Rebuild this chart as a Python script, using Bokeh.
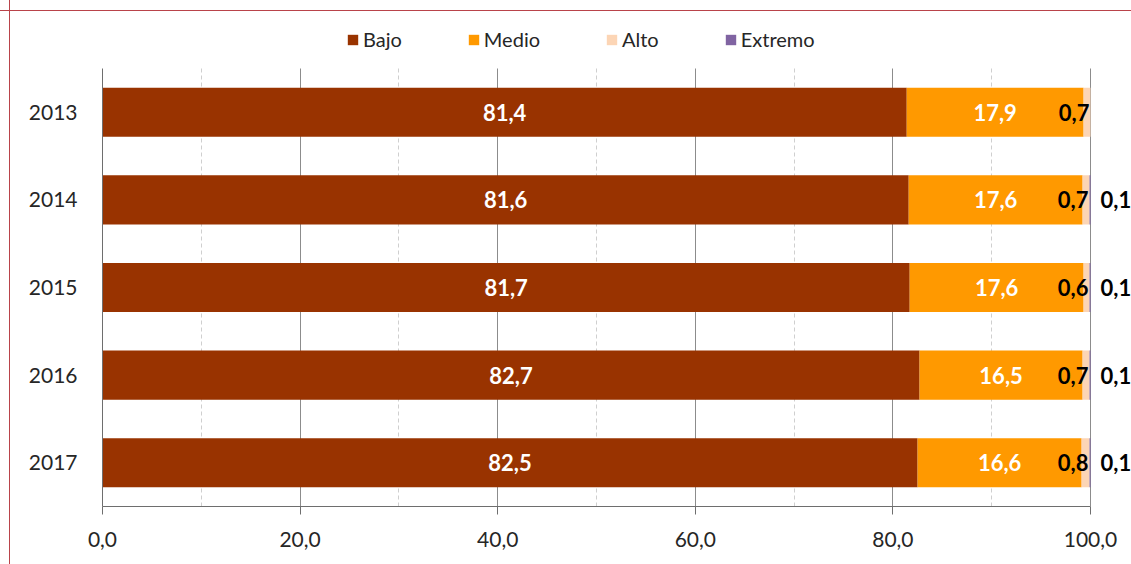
from bokeh.plotting import figure
from bokeh.models import (ColumnDataSource, Range1d, FixedTicker, BoxAnnotation,
                          LabelSet, Legend, LegendItem)
from bokeh.core.properties import value
from bokeh.embed import file_html
from bokeh.resources import INLINE

years = ["2013", "2014", "2015", "2016", "2017"]
bajo = [81.4, 81.6, 81.7, 82.7, 82.5]
medio = [17.9, 17.6, 17.6, 16.5, 16.6]
alto = [0.7, 0.7, 0.6, 0.7, 0.8]
extremo = [0.0, 0.1, 0.1, 0.1, 0.1]
series_names = ["Bajo", "Medio", "Alto", "Extremo"]
colors = ["#993300", "#FF9900", "#FCD5B5", "#8064A2"]
x_ticks = [0, 20, 40, 60, 80, 100]
x_tick_labels = ["0,0", "20,0", "40,0", "60,0", "80,0", "100,0"]
x_minor = [10, 30, 50, 70, 90]


def fmt(v):
    return f"{v:.1f}".replace(".", ",")


FONT = "Lato"
W, H = 1131, 564
LEFT, BOTTOM = 102, 58
PX_PER_UNIT_X = 9.88     # frame pixels per percentage point
PX_PER_CAT = 87.6        # frame pixels per category band

n = len(years)
ypos = [n - i - 0.5 for i in range(n)]   # first year at top

src = ColumnDataSource(dict(
    year=years, ypos=ypos, bajo=bajo, medio=medio, alto=alto, extremo=extremo,
    bajo_mid=[b / 2 for b in bajo],
    medio_mid=[b + m / 2 for b, m in zip(bajo, medio)],
    alto_end=[b + m + a for b, m, a in zip(bajo, medio, alto)],
    ext_end=[b + m + a + e for b, m, a, e in zip(bajo, medio, alto, extremo)],
    bajo_lbl=[fmt(v) for v in bajo],
    medio_lbl=[fmt(v) for v in medio],
    alto_lbl=[fmt(v) for v in alto],
    ext_lbl=[fmt(v) if v > 0 else "" for v in extremo],
))

x_end = (W - LEFT) / PX_PER_UNIT_X
y_end = (H - BOTTOM) / PX_PER_CAT

p = figure(width=W, height=H,
           x_range=Range1d(0, x_end), y_range=Range1d(0, y_end),
           output_backend="svg", toolbar_location=None,
           min_border_left=LEFT, min_border_right=0,
           min_border_top=0, min_border_bottom=BOTTOM)
p.outline_line_color = None
p.background_fill_color = None
p.border_fill_color = None
p.styles = {
    "background-color": "white",
    "background-image": "linear-gradient(#B9434A,#B9434A), linear-gradient(#B9434A,#B9434A)",
    "background-size": "100% 1px, 1px 100%",
    "background-position": "0 10px, 9px 0",
    "background-repeat": "no-repeat",
}

rs = p.hbar_stack(["bajo", "medio", "alto", "extremo"], y="ypos", height=0.56,
                  color=colors, line_color=None, source=src)

# grid
tk = FixedTicker(ticks=x_ticks, minor_ticks=x_minor)
p.xaxis.ticker = tk
p.xgrid.ticker = tk
p.xgrid.grid_line_color = "#8C8C8C"
p.xgrid.minor_grid_line_color = "#CFCFCF"
p.xgrid.minor_grid_line_dash = "4 3"
p.ygrid.grid_line_color = None
try:
    p.xgrid[0].cross_bounds = (0, n)
except Exception:
    p.add_layout(BoxAnnotation(bottom=n, fill_color="white", fill_alpha=1,
                               line_color=None, level="glyph"))

# axes
p.xaxis.bounds = (0, 100)
p.xaxis.major_label_overrides = dict(zip(x_ticks, x_tick_labels))
p.xaxis.axis_line_color = "#6E6E6E"
p.xaxis.major_tick_line_color = "#6E6E6E"
p.xaxis.major_tick_out = 8
p.xaxis.major_tick_in = 0
p.xaxis.minor_tick_line_color = None
p.xaxis.major_label_standoff = 17
p.yaxis.bounds = (0, n)
p.yaxis.ticker = FixedTicker(ticks=ypos, minor_ticks=[])
p.yaxis.major_label_overrides = dict(zip(ypos, years))
p.yaxis.axis_line_color = "#6E6E6E"
p.yaxis.major_tick_line_color = None
p.yaxis.major_tick_out = 0
p.yaxis.minor_tick_line_color = None
p.yaxis.major_label_standoff = 25
for ax in (p.xaxis, p.yaxis):
    ax.major_label_text_font = FONT
    ax.major_label_text_font_size = "21px"
    ax.major_label_text_color = "#262626"

# labels
common = dict(y="ypos", source=src, text_baseline="middle",
              text_font=value(FONT), text_font_size="22px", text_font_style="bold")
p.add_layout(LabelSet(x="bajo_mid", text="bajo_lbl", text_align="center",
                      text_color="white", **common))
p.add_layout(LabelSet(x="medio_mid", text="medio_lbl", text_align="center",
                      text_color="white", **common))
p.add_layout(LabelSet(x="alto_end", text="alto_lbl", text_align="right",
                      x_offset=-1, text_color="black", **common))
p.add_layout(LabelSet(x="ext_end", text="ext_lbl", text_align="left",
                      x_offset=10, text_color="black", **common))

legend = Legend(items=[LegendItem(label=nm, renderers=[r]) for nm, r in zip(series_names, rs)],
                orientation="horizontal", location=(244, 455))
legend.border_line_color = None
legend.background_fill_alpha = 0
legend.label_text_font = FONT
legend.label_text_font_size = "20px"
legend.label_text_color = "#262626"
legend.glyph_width = 13
legend.glyph_height = 13
legend.label_standoff = 4
legend.spacing = 65
legend.padding = 4
legend.margin = 0
p.add_layout(legend)

open("out.html", "w").write(file_html(p, INLINE))
